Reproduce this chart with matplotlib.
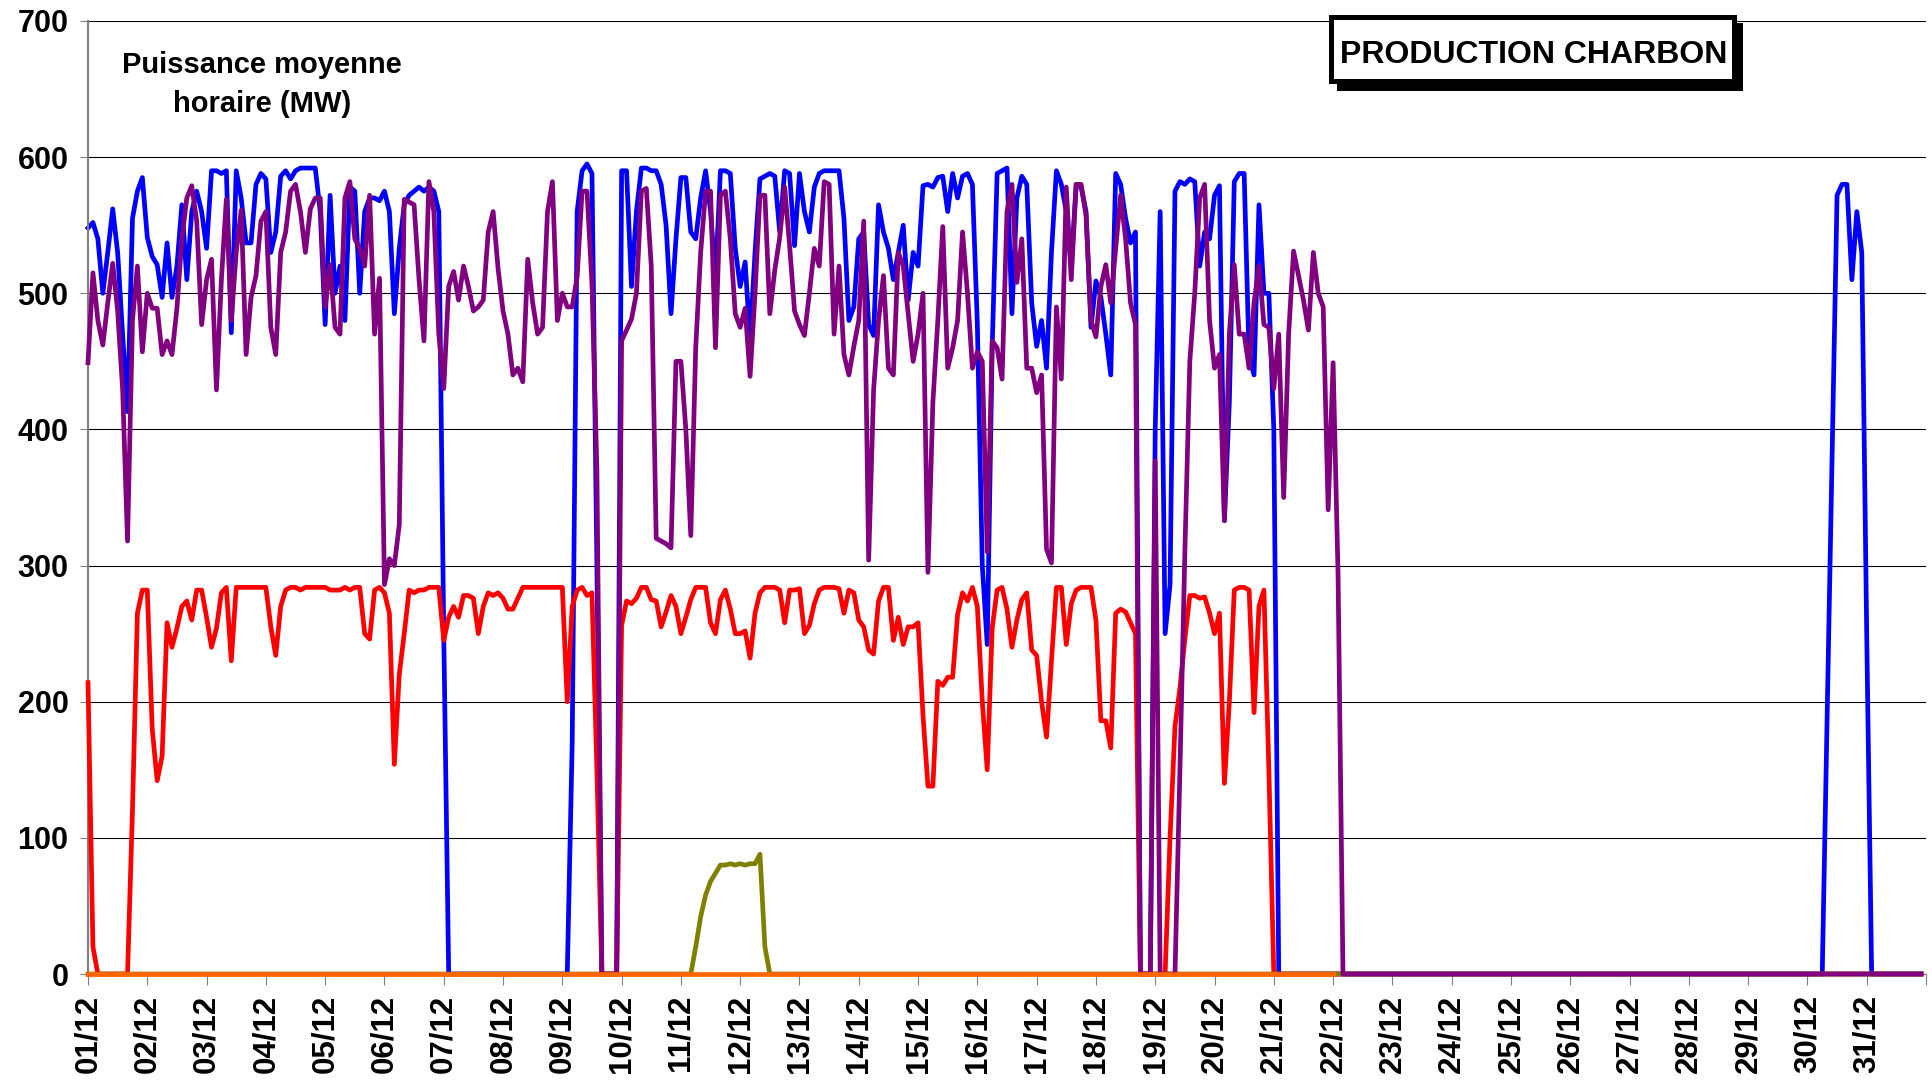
import numpy as np
import matplotlib.pyplot as plt
from matplotlib.patches import Rectangle

plt.rcParams['font.family'] = ['Liberation Sans', 'DejaVu Sans']
plt.rcParams['font.weight'] = 'bold'

# one reading every 2 hours, 12 per day, month of December
step_h = 2
n_pts = 31 * 24 // step_h
day_labels = ['%02d/12' % d for d in range(1, 32)]

# blue unit, days 01/12 -> 21/12
blue_days = [
    [548, 552, 540, 500, 530, 562, 530, 470, 413, 555, 575, 585],
    [541, 527, 521, 497, 537, 497, 520, 565, 510, 560, 575, 560],
    [533, 590, 590, 588, 590, 471, 590, 570, 537, 537, 580, 588],
    [584, 530, 545, 586, 590, 584, 590, 592, 592, 592, 592, 560],
    [477, 572, 500, 520, 480, 578, 575, 500, 560, 570, 570, 568],
    [575, 560, 485, 533, 565, 572, 575, 578, 575, 578, 575, 560],
    [250, 0, 0, 0, 0, 0, 0, 0, 0, 0, 0, 0],
    [0, 0, 0, 0, 0, 0, 0, 0, 0, 0, 0, 0],
    [0, 0, 170, 560, 590, 595, 588, 300, 0, 0, 0, 0],
    [590, 590, 505, 560, 592, 592, 590, 590, 580, 550, 485, 540],
    [585, 585, 545, 540, 570, 590, 560, 510, 590, 590, 588, 533],
    [505, 523, 465, 530, 584, 586, 588, 586, 545, 590, 588, 535],
    [588, 560, 545, 578, 588, 590, 590, 590, 590, 555, 480, 490],
    [540, 545, 477, 469, 565, 545, 533, 510, 530, 550, 495, 530],
    [520, 579, 580, 578, 585, 586, 560, 588, 570, 586, 588, 580],
    [477, 300, 242, 460, 588, 590, 592, 485, 570, 586, 580, 493],
    [461, 480, 445, 530, 590, 580, 560, 520, 580, 578, 560, 475],
    [509, 497, 470, 440, 588, 580, 555, 537, 545, 0, 0, 0],
    [400, 560, 250, 286, 575, 582, 580, 584, 582, 520, 545, 540],
    [572, 579, 333, 420, 582, 588, 588, 453, 440, 565, 500, 500],
    [400, 0, 0, 0, 0, 0, 0, 0, 0, 0, 0, 0],
]
# blue unit restart, 30/12 -> 31/12
blue_end = [0, 0, 0, 0, 190, 380, 572, 580, 580, 510, 560, 530, 250, 0]

# purple unit, days 01/12 -> 22/12
purple_days = [
    [449, 515, 480, 462, 493, 522, 487, 430, 318, 480, 520, 457],
    [500, 489, 489, 455, 465, 455, 489, 540, 570, 579, 553, 477],
    [510, 525, 429, 510, 569, 480, 530, 561, 455, 497, 513, 553],
    [560, 475, 455, 530, 545, 575, 580, 560, 530, 562, 570, 570],
    [490, 521, 475, 470, 570, 582, 540, 533, 520, 572, 470, 511],
    [286, 305, 300, 330, 569, 567, 565, 510, 465, 582, 560, 470],
    [430, 505, 516, 495, 520, 505, 487, 490, 495, 545, 560, 518],
    [487, 470, 440, 445, 435, 525, 493, 470, 475, 560, 582, 480],
    [500, 490, 490, 512, 575, 575, 507, 370, 0, 0, 0, 0],
    [465, 473, 481, 500, 575, 577, 520, 320, 318, 316, 313, 450],
    [450, 400, 322, 460, 530, 575, 575, 460, 572, 575, 540, 485],
    [475, 489, 439, 500, 572, 572, 485, 517, 541, 578, 535, 487],
    [477, 469, 500, 533, 520, 582, 580, 470, 520, 455, 440, 461],
    [480, 553, 304, 429, 480, 513, 445, 440, 530, 520, 485, 450],
    [470, 500, 295, 420, 480, 549, 445, 460, 480, 545, 500, 445],
    [457, 450, 310, 465, 460, 437, 560, 580, 508, 540, 445, 445],
    [427, 440, 312, 302, 490, 437, 578, 510, 580, 580, 557, 480],
    [468, 505, 521, 493, 533, 572, 540, 493, 477, 0, 0, 0],
    [377, 0, 0, 0, 0, 150, 310, 450, 500, 570, 580, 480],
    [445, 455, 333, 470, 521, 470, 470, 445, 493, 520, 477, 475],
    [430, 470, 350, 470, 531, 513, 495, 473, 530, 500, 490, 341],
    [449, 294, 0, 0, 0, 0, 0, 0, 0, 0, 0, 0],
]

# red unit, days 01/12 -> 21/12
red_days = [
    [214, 20, 0, 0, 0, 0, 0, 0, 0, 120, 265, 282],
    [282, 180, 142, 160, 258, 240, 254, 270, 274, 260, 282, 282],
    [262, 240, 254, 280, 284, 230, 284, 284, 284, 284, 284, 284],
    [284, 255, 234, 270, 282, 284, 284, 282, 284, 284, 284, 284],
    [284, 282, 282, 282, 284, 282, 284, 284, 250, 246, 282, 284],
    [280, 265, 154, 220, 250, 282, 280, 282, 282, 284, 284, 284],
    [245, 262, 270, 262, 278, 278, 276, 250, 270, 280, 278, 280],
    [276, 268, 268, 276, 284, 284, 284, 284, 284, 284, 284, 284],
    [284, 200, 270, 282, 284, 278, 280, 150, 0, 0, 0, 0],
    [256, 274, 272, 276, 284, 284, 275, 274, 255, 266, 278, 270],
    [250, 262, 275, 284, 284, 284, 258, 250, 275, 282, 268, 250],
    [250, 252, 232, 265, 280, 284, 284, 284, 282, 258, 282, 282],
    [283, 250, 256, 272, 282, 284, 284, 284, 283, 265, 282, 280],
    [260, 255, 238, 235, 274, 284, 284, 245, 262, 242, 255, 255],
    [258, 190, 138, 138, 215, 212, 218, 218, 264, 280, 274, 284],
    [270, 200, 150, 254, 282, 284, 268, 240, 260, 275, 280, 238],
    [234, 200, 174, 230, 284, 284, 242, 272, 282, 284, 284, 284],
    [260, 186, 186, 166, 265, 268, 266, 258, 250, 0, 0, 0],
    [0, 0, 0, 100, 182, 210, 246, 278, 278, 276, 277, 265],
    [250, 265, 140, 200, 282, 284, 284, 282, 192, 270, 282, 150],
    [0, 0, 0, 0, 0, 0, 0, 0, 0, 0, 0, 0],
]

# olive unit, 11/12 20h -> 12/12 12h
olive_run = [0, 20, 42, 58, 68, 74, 80, 80, 81, 80, 81, 80, 81, 81, 88, 20, 0]
olive_start = 122

# orange unit: zero until 22/12
orange_days = 21

blue = np.zeros(n_pts)
blue[:12 * len(blue_days)] = np.concatenate(blue_days)
blue[348:348 + len(blue_end)] = blue_end
purple = np.zeros(n_pts)
purple[:12 * len(purple_days)] = np.concatenate(purple_days)
red = np.zeros(n_pts)
red[:12 * len(red_days)] = np.concatenate(red_days)
olive = np.zeros(n_pts)
olive[olive_start:olive_start + len(olive_run)] = olive_run
orange = np.zeros(orange_days * 12 + 1)

t = np.arange(n_pts) * step_h / 24.0

W, H = 1933, 1080
fig = plt.figure(figsize=(W / 100, H / 100), dpi=100)
ax = fig.add_axes([88 / W, 1 - 974 / H, (1926 - 88) / W, (974 - 21) / H])

lw = 3.4
ax.plot(t, blue, color='#0000FF', lw=lw, zorder=2, clip_on=False)
ax.plot(t, red, color='#FF0000', lw=lw, zorder=3, clip_on=False)
ax.plot(t, olive, color='#808000', lw=lw, zorder=3, clip_on=False)
ax.plot(t, purple, color='#800080', lw=lw, zorder=4, clip_on=False)
ax.plot(t[:len(orange)], orange, color='#FF6600', lw=lw, zorder=5, clip_on=False)

ax.set_xlim(0, 31)
ax.set_ylim(0, 700)
ax.set_yticks(range(0, 701, 100))
ax.set_xticks(range(32))
ax.set_xticklabels(day_labels + [''], rotation=90, fontsize=22.5, fontweight='bold')
ax.set_yticklabels([str(v) for v in range(0, 701, 100)], fontsize=22, fontweight='bold')
ax.grid(axis='y', color='black', lw=0.8, zorder=1)
ax.grid(axis='x', visible=False)
ax.set_axisbelow(True)
for s in ['top', 'right']:
    ax.spines[s].set_visible(False)
ax.spines['left'].set_color('#808080')
ax.spines['left'].set_linewidth(1.5)
ax.spines['bottom'].set_color('#808080')
ax.tick_params(axis='y', length=6, color='#808080', pad=8)
ax.tick_params(axis='x', length=8, color='#808080', pad=7)

fig.text(262 / W, 1 - 73 / H, 'Puissance moyenne', ha='center', va='baseline',
         fontsize=21, fontweight='bold')
fig.text(262 / W, 1 - 112 / H, 'horaire (MW)', ha='center', va='baseline',
         fontsize=21, fontweight='bold')

# title box with drop shadow
shadow = Rectangle((1337 / W, 1 - 91 / H), 406 / W, 68 / H, transform=fig.transFigure,
                   fc='black', ec='none', zorder=5)
box = Rectangle((1331.5 / W, 1 - 80.5 / H), 403 / W, 63 / H, transform=fig.transFigure,
                fc='white', ec='black', lw=3.6, zorder=6)
fig.add_artist(shadow)
fig.add_artist(box)
fig.text(1534 / W, 1 - 63 / H, 'PRODUCTION CHARBON', ha='center', va='baseline',
         fontsize=23, fontweight='bold', zorder=7)

fig.savefig('out.png', dpi=100)
